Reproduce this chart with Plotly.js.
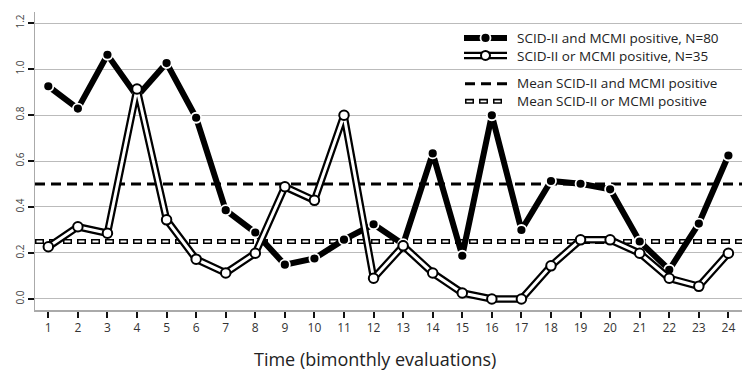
<!DOCTYPE html>
<html>
<head>
<meta charset="utf-8">
<script src="https://cdn.plot.ly/plotly-3.0.1.min.js"></script>
<style>html,body{margin:0;padding:0;background:#fff;}#chart{width:742px;height:371px;}</style>
</head>
<body>
<div id="chart"></div>
<script>
// ---- data ----
const timePoints = [1,2,3,4,5,6,7,8,9,10,11,12,13,14,15,16,17,18,19,20,21,22,23,24];
const scidAndMcmi = [0.925,0.828,1.062,0.881,1.026,0.788,0.386,0.289,0.149,0.176,0.258,0.325,0.238,0.633,0.188,0.799,0.300,0.513,0.501,0.477,0.250,0.127,0.328,0.624];
const scidOrMcmi = [0.227,0.314,0.286,0.913,0.344,0.173,0.113,0.199,0.488,0.429,0.799,0.090,0.231,0.113,0.026,0.0,0.0,0.144,0.257,0.257,0.199,0.090,0.055,0.199];
const meanAnd = 0.50;
const meanOr = 0.25;
const yTicks = [0.0,0.2,0.4,0.6,0.8,1.0,1.2];
const yTickText = ['0.0','0.2','0.4','0.6','0.8','1.0','1.2'];
const legendLabels = ['SCID-II and MCMI positive, N=80','SCID-II or MCMI positive, N=35','Mean SCID-II and MCMI positive','Mean SCID-II or MCMI positive'];
const xTitle = 'Time (bimonthly evaluations)';

// ---- layout helpers (pixel -> paper) ----
const W = 742, H = 371, ML = 35, MR = 0, MT = 12, MB = 61;
const PW = W - ML - MR, PH = H - MT - MB;
const px = x => (x - ML) / PW;
const py = y => (H - MB - y) / PH;

const FONT = '"Open Sans", "Noto Sans", sans-serif';
const LFS = 13.5;               // legend font size
const LSP = LFS * 1.3;          // plotly line spacing

const traces = [
  {x: timePoints, y: scidAndMcmi, mode: 'lines+markers', showlegend: false, hoverinfo: 'skip',
   line: {color: '#000', width: 6},
   marker: {symbol: 'circle', size: 10, color: '#000', line: {color: '#fff', width: 1.8}}},
  {x: timePoints, y: scidOrMcmi, mode: 'lines', showlegend: false, hoverinfo: 'skip',
   line: {color: '#000', width: 7.5}},
  {x: timePoints, y: scidOrMcmi, mode: 'lines+markers', showlegend: false, hoverinfo: 'skip',
   line: {color: '#fff', width: 3},
   marker: {symbol: 'circle', size: 9.5, color: '#fff', line: {color: '#000', width: 2}}}
];

const shapes = [
  {type: 'line', xref: 'paper', yref: 'y', x0: 0, x1: 1, y0: meanAnd, y1: meanAnd, layer: 'between',
   line: {color: '#000', width: 3, dash: '10px,6px'}},
  {type: 'line', xref: 'paper', yref: 'y', x0: 0, x1: 1, y0: meanOr, y1: meanOr, layer: 'between',
   line: {color: '#000', width: 5, dash: '9px,5px'}},
  {type: 'line', xref: 'paper', yref: 'y', x0: px(ML + 1.5), x1: 1, y0: meanOr, y1: meanOr, layer: 'between',
   line: {color: '#fff', width: 1.8, dash: '6px,8px'}}
];

// legend groups
const G1 = 46.7, G2 = 92.5;
const LY = [G1 - LSP / 2, G1 + LSP / 2, G2 - LSP / 2, G2 + LSP / 2];
const LX0 = 464, LX1 = 507, LXC = 485.5;
shapes.push({type: 'line', xref: 'paper', yref: 'paper', x0: px(LX0), x1: px(LX1), y0: py(LY[0]), y1: py(LY[0]), layer: 'above', line: {color: '#000', width: 6}});
shapes.push({type: 'circle', xref: 'paper', yref: 'paper', x0: px(LXC - 5), x1: px(LXC + 5), y0: py(LY[0] + 5), y1: py(LY[0] - 5), layer: 'above', fillcolor: '#000', line: {color: '#fff', width: 1.8}});
shapes.push({type: 'line', xref: 'paper', yref: 'paper', x0: px(LX0), x1: px(LX1), y0: py(LY[1]), y1: py(LY[1]), layer: 'above', line: {color: '#000', width: 7.5}});
shapes.push({type: 'line', xref: 'paper', yref: 'paper', x0: px(LX0), x1: px(LX1), y0: py(LY[1]), y1: py(LY[1]), layer: 'above', line: {color: '#fff', width: 3}});
shapes.push({type: 'circle', xref: 'paper', yref: 'paper', x0: px(LXC - 4.5), x1: px(LXC + 4.5), y0: py(LY[1] + 4.5), y1: py(LY[1] - 4.5), layer: 'above', fillcolor: '#fff', line: {color: '#000', width: 2}});
shapes.push({type: 'line', xref: 'paper', yref: 'paper', x0: px(LX0 + 1), x1: px(LX1), y0: py(LY[2]), y1: py(LY[2]), layer: 'above', line: {color: '#000', width: 3, dash: '10px,6px'}});
shapes.push({type: 'line', xref: 'paper', yref: 'paper', x0: px(LX0 + 1), x1: px(LX1), y0: py(LY[3]), y1: py(LY[3]), layer: 'above', line: {color: '#000', width: 5, dash: '9px,5px'}});
shapes.push({type: 'line', xref: 'paper', yref: 'paper', x0: px(LX0 + 2.5), x1: px(LX1), y0: py(LY[3]), y1: py(LY[3]), layer: 'above', line: {color: '#fff', width: 1.8, dash: '6px,8px'}});

const annotations = [
  {text: legendLabels[0] + '<br>' + legendLabels[1], xref: 'paper', yref: 'paper', x: px(515), y: py(G1),
   xanchor: 'left', yanchor: 'middle', align: 'left', showarrow: false, font: {family: FONT, size: LFS, color: '#222'}},
  {text: legendLabels[2] + '<br>' + legendLabels[3], xref: 'paper', yref: 'paper', x: px(515), y: py(G2),
   xanchor: 'left', yanchor: 'middle', align: 'left', showarrow: false, font: {family: FONT, size: LFS, color: '#222'}},
  {text: xTitle, xref: 'paper', yref: 'paper', x: px(375), y: py(358.5), xanchor: 'center', yanchor: 'middle',
   showarrow: false, font: {family: FONT, size: 18, color: '#222'}}
];

const layout = {
  width: W, height: H,
  margin: {l: ML, r: MR, t: MT, b: MB, pad: 0},
  paper_bgcolor: '#fff', plot_bgcolor: '#fff',
  showlegend: false,
  font: {family: FONT, color: '#333'},
  xaxis: {range: [0.55, 24.46], tickmode: 'array', tickvals: timePoints, ticktext: timePoints.map(String),
    showgrid: false, zeroline: false, showline: true, linecolor: '#aaa', linewidth: 1.5,
    ticks: 'outside', ticklen: 6, tickwidth: 2, tickcolor: '#111',
    tickfont: {family: FONT, size: 12, color: '#333'}},
  yaxis: {range: [-0.048, 1.248], tickmode: 'array', tickvals: yTicks, ticktext: yTickText,
    showgrid: true, gridcolor: '#bbb', gridwidth: 1, zeroline: false, showline: true, linecolor: '#aaa', linewidth: 1.5,
    ticks: 'outside', ticklen: 6, tickwidth: 2, tickcolor: '#111', tickangle: -90,
    tickfont: {family: FONT, size: 10, color: '#444'}},
  shapes: shapes,
  annotations: annotations
};

Plotly.newPlot('chart', traces, layout, {staticPlot: true, displayModeBar: false});
</script>
</body>
</html>
